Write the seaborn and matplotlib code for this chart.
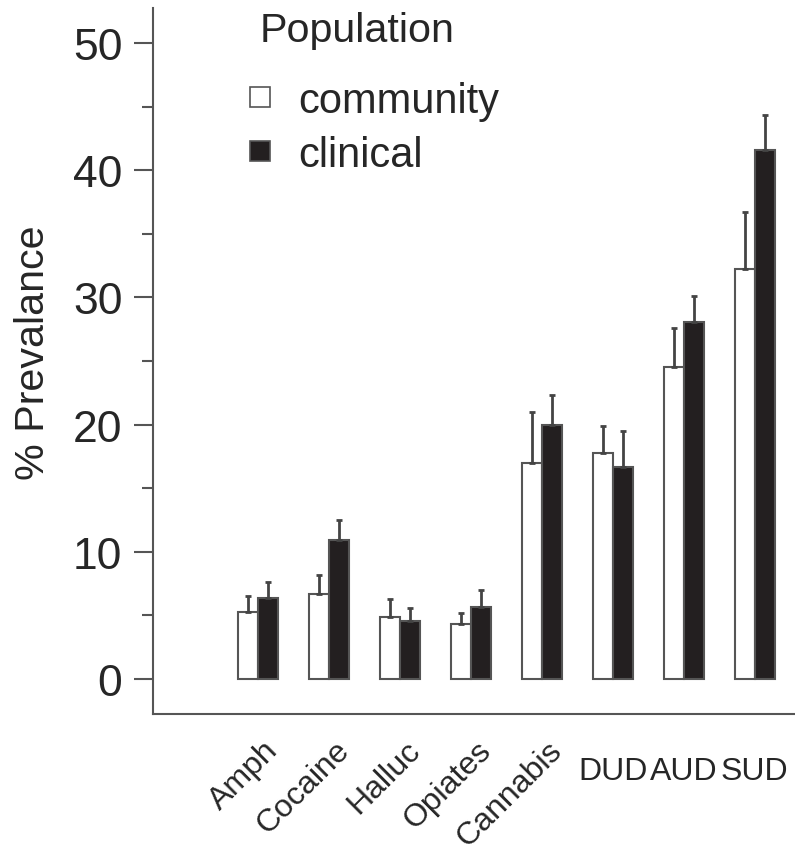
import numpy as np
import pandas as pd
import matplotlib
matplotlib.use("Agg")
from matplotlib import pyplot as plt
from matplotlib.lines import Line2D
import matplotlib.transforms as mtransforms
import seaborn as sns

# prevalence (%)
drugs = ["Amph", "Cocaine", "Halluc", "Opiates", "Cannabis", "DUD", "AUD", "SUD"]
community = [5.3, 6.7, 4.9, 4.3, 17.0, 17.8, 24.5, 32.2]
community_err = [1.25, 1.5, 1.4, 0.9, 4.0, 2.1, 3.1, 4.5]
clinical = [6.4, 10.9, 4.6, 5.7, 20.0, 16.7, 28.1, 41.6]
clinical_err = [1.25, 1.6, 0.95, 1.3, 2.3, 2.8, 2.0, 2.7]
populations = ["community", "clinical"]

sns.set_theme(style="white")
plt.rcParams["font.family"] = ["Liberation Sans", "DejaVu Sans"]

df = pd.DataFrame({"drug": drugs * 2,
                   "prev": community + clinical,
                   "pop": [populations[0]] * len(drugs) + [populations[1]] * len(drugs)})

edge = "#555555"
fig = plt.figure(figsize=(7.95, 8.45), dpi=100)
ax = fig.add_axes([153 / 795, 1 - 715 / 845, 1 - 153 / 795, (715 - 9) / 845])

sns.barplot(data=df, x="drug", y="prev", hue="pop", hue_order=populations,
            palette={"community": "white", "clinical": "#231f20"}, saturation=1,
            width=0.565, edgecolor=edge, linewidth=1.5, errorbar=None,
            legend=False, ax=ax)

# upper-only error bars on top of each bar
n = len(drugs)
for bars, errs in [(ax.patches[:n], community_err), (ax.patches[n:2 * n], clinical_err)]:
    xs = [b.get_x() + b.get_width() / 2 for b in bars]
    ys = [b.get_height() for b in bars]
    ax.errorbar(xs, ys, yerr=[np.zeros(n), errs], fmt="none", ecolor="#444444",
                elinewidth=2, capsize=2.5, capthick=2)

ax.set_xlim(-1.48, 7.57)
ax.set_ylim(-2.75, 52.75)
ax.set_yticks(range(0, 51, 10))
ax.set_yticks(range(5, 50, 10), minor=True)
ax.tick_params(axis="y", which="major", length=14, width=1.5, color=edge,
               direction="out", labelsize=32, pad=8, left=True)
ax.tick_params(axis="y", which="minor", length=8, width=1.5, color=edge,
               direction="out", left=True)
ax.tick_params(axis="x", length=0, pad=30, labelsize=23)
ax.set_xlabel("")
ax.set_ylabel("% Prevalance", fontsize=29.7)
ax.yaxis.set_label_coords(-0.158, 0.513)

sns.despine(ax=ax)
for s in ["left", "bottom"]:
    ax.spines[s].set_color(edge)
    ax.spines[s].set_linewidth(1.5)

# drug names slanted, the three disorder totals flat
shift = mtransforms.ScaledTranslation(5 / 100, 21 / 100, fig.dpi_scale_trans)
for lab in ax.get_xticklabels()[:5]:
    lab.set_rotation(45)
    lab.set_ha("right")
    lab.set_va("top")
    lab.set_rotation_mode("anchor")
    lab.set_transform(lab.get_transform() + shift)

handles = [Line2D([], [], marker="s", ls="none", markersize=14,
                  markerfacecolor=c, markeredgecolor=edge, markeredgewidth=1.2, label=p)
           for p, c in zip(populations, ["white", "#231f20"])]
ax.legend(handles=handles, loc="upper left", bbox_to_anchor=(248 / 795, 1 - 82 / 845),
          bbox_transform=fig.transFigure, frameon=False, fontsize=30,
          handlelength=0.56, handletextpad=0.65, labelspacing=0.33,
          borderpad=0, borderaxespad=0)
fig.text(260 / 795, 1 - 42 / 845, "Population", ha="left", va="baseline", fontsize=29.7)

fig.savefig("out.png", dpi=100, facecolor="white")
